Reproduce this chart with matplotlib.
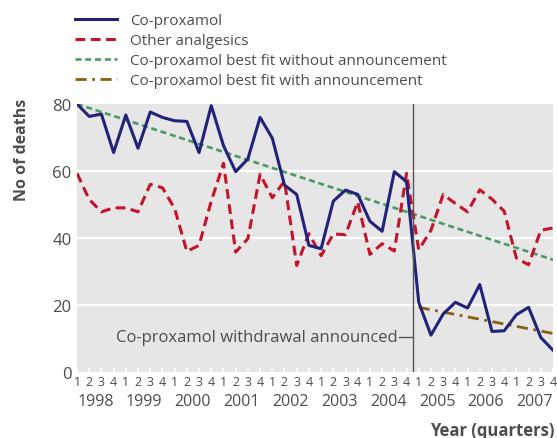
import numpy as np
import matplotlib
matplotlib.use("Agg")
import matplotlib.pyplot as plt

# quarterly deaths, 1998 Q1 .. 2007 Q4
years = ["1998", "1999", "2000", "2001", "2002", "2003", "2004", "2005", "2006", "2007"]
quarter_labels = ["1", "2", "3", "4"] * len(years)

coproxamol = [80, 76.3, 77, 65.5, 76.7, 66.8, 77.6, 76, 75, 74.8,
              65.5, 79.5, 67.6, 59.8, 63.6, 76, 69.8, 55.8, 53, 37.8,
              36.8, 51, 54.3, 53, 45, 42, 59.8, 56.8, 20.8, 11,
              17.3, 20.8, 19.1, 26.1, 12.1, 12.3, 17.1, 19.3, 10.3, 6.5]
other = [59.3, 51.5, 47.8, 49, 49, 47.8, 56, 55, 48.8, 36,
         37.8, 51, 62.3, 35.8, 39.8, 59, 52, 57, 31.8, 41.3,
         34.7, 41.2, 41, 50.8, 35.1, 38.3, 36.1, 59.3, 36.5, 42.3,
         53, 50.3, 47.8, 54.4, 51.6, 48, 34, 32, 42.3, 43]

fit_without_x = [0, 39]
fit_without_y = [80, 33.5]
fit_with_x = [28, 39]
fit_with_y = [19.3, 11.5]

announce_x = 27.5
announce_label_y = 10.5

plt.rcParams['font.family'] = ['Open Sans', 'DejaVu Sans']
txt = '#4d4d4d'

fig = plt.figure(figsize=(5.57, 4.39), dpi=100)
ax = fig.add_axes([77 / 557, 1 - 373 / 439, 476 / 557, 268 / 439])
ax.set_facecolor('#e6e6e6')

q = np.arange(len(coproxamol))
ax.plot(q, coproxamol, color='#23227a', lw=2.2, label='Co-proxamol', zorder=5)
ax.plot(q, other, color='#c4142b', lw=2.2, dashes=(3.2, 1.8), label='Other analgesics', zorder=4)
ax.plot(fit_without_x, fit_without_y, color='#4b9a66', lw=1.9, dashes=(2.3, 1.4),
        label='Co-proxamol best fit without announcement', zorder=3)
ax.plot(fit_with_x, fit_with_y, color='#8a5f10', lw=2, dashes=(4, 2, 1, 2),
        label='Co-proxamol best fit with announcement', zorder=3)

ax.axvline(announce_x, color='#555555', lw=1, zorder=6)
ax.plot([announce_x - 1.15, announce_x], [announce_label_y, announce_label_y], color='#555555', lw=1)
ax.text(announce_x - 1.25, announce_label_y, 'Co-proxamol withdrawal announced',
        ha='right', va='center', fontsize=12, color=txt)

ax.set_xlim(0, 39)
ax.set_ylim(0, 80)
ax.set_yticks([0, 20, 40, 60, 80])
ax.tick_params(axis='y', length=0, labelsize=12, labelcolor=txt, pad=4)
for v in [20, 40, 60]:
    ax.axhline(v, color='white', lw=1.6, zorder=1)

ax.set_xticks(q)
ax.set_xticklabels(quarter_labels)
ax.set_xticks(np.arange(len(years)) * 4 + 1.5, minor=True)
ax.set_xticklabels(years, minor=True)
ax.tick_params(axis='x', which='major', direction='in', length=3, width=1.2, color='white',
               labelsize=9, labelcolor=txt, pad=2)
ax.tick_params(axis='x', which='minor', length=0, labelsize=11.5, labelcolor=txt, pad=15)

for s in ax.spines.values():
    s.set_visible(False)

fig.text(22 / 557, 1 - 99 / 439, 'No of deaths', rotation=90, ha='center', va='top',
         fontsize=11.5, fontweight='bold', color=txt)
fig.text(554 / 557, 1 - 431 / 439, 'Year (quarters)', ha='right', va='center',
         fontsize=12, fontweight='bold', color=txt)

ax.legend(loc='upper left', bbox_to_anchor=(75 / 557, 1 - 14 / 439), bbox_transform=fig.transFigure,
          frameon=False, fontsize=11, handlelength=2.75, handletextpad=0.85, labelspacing=0.33,
          labelcolor=txt, borderaxespad=0, borderpad=0)

fig.savefig('out.png', dpi=100)
